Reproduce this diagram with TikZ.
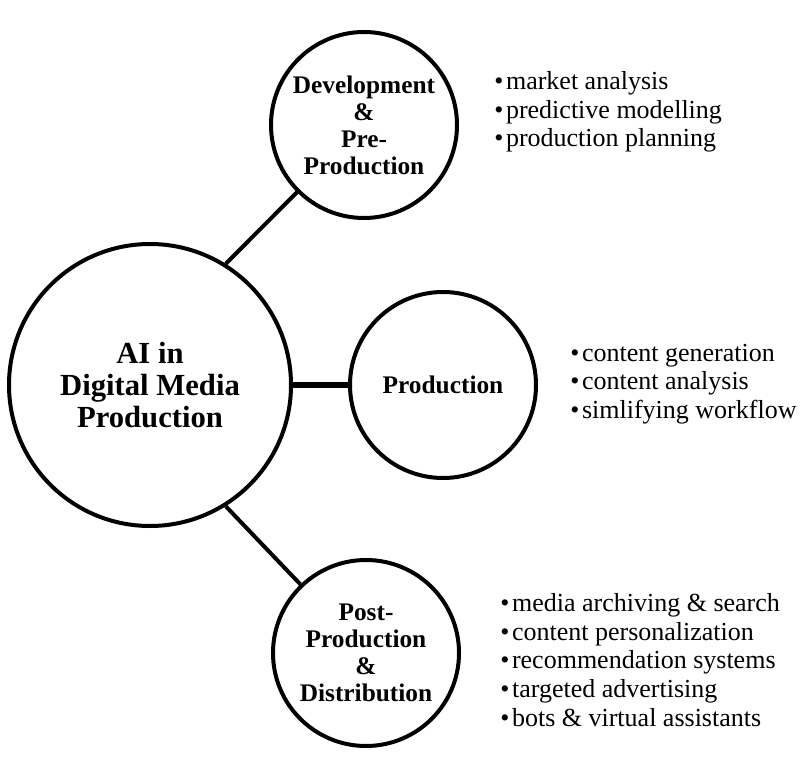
\documentclass[tikz,border=0pt]{standalone}
\usepackage{fontspec}
\setmainfont{Liberation Serif}
\newcommand{\bul}{•\hspace{2pt}}
\begin{document}
\begin{tikzpicture}[x=0.75pt,y=-0.75pt,
  hub/.style={circle,draw,line width=3pt,minimum size=211.5pt,inner sep=0pt,align=center,font=\fontsize{23}{24}\selectfont\bfseries},
  stage/.style={circle,draw,line width=3pt,minimum size=139.5pt,inner sep=0pt,align=center,font=\fontsize{19}{20.25}\selectfont\bfseries},
  items/.style={anchor=west,align=left,inner sep=0pt,font=\fontsize{19.5}{21.5}\selectfont},
  link/.style={line width=3pt}]
\useasboundingbox (0,0) rectangle (812,762);
\node[hub] (ai) at (150,385) {AI in\\Digital Media\\Production};
\node[stage] (dev) at (364,125) {Development\\\&\\Pre-\\Production};
\node[stage] (prod) at (443,385) {Production};
\node[stage] (post) at (366,653) {Post-\\Production\\\&\\Distribution};
\draw[link] (ai.58) -- (dev);
\draw[link,line width=4.5pt] (ai.east) -- (prod.west);
\draw[link] (ai.-58) -- (post);
\node[items] (devlist) at (494,112) {\bul market analysis\\\bul predictive modelling\\\bul production planning};
\node[items] (prodlist) at (570,384) {\bul content generation\\\bul content analysis\\\bul simlifying workflow};
\node[items] (postlist) at (500,660) {\bul media archiving \& search\\\bul content personalization\\\bul recommendation systems\\\bul targeted advertising\\\bul bots \& virtual assistants};
\end{tikzpicture}
\end{document}
